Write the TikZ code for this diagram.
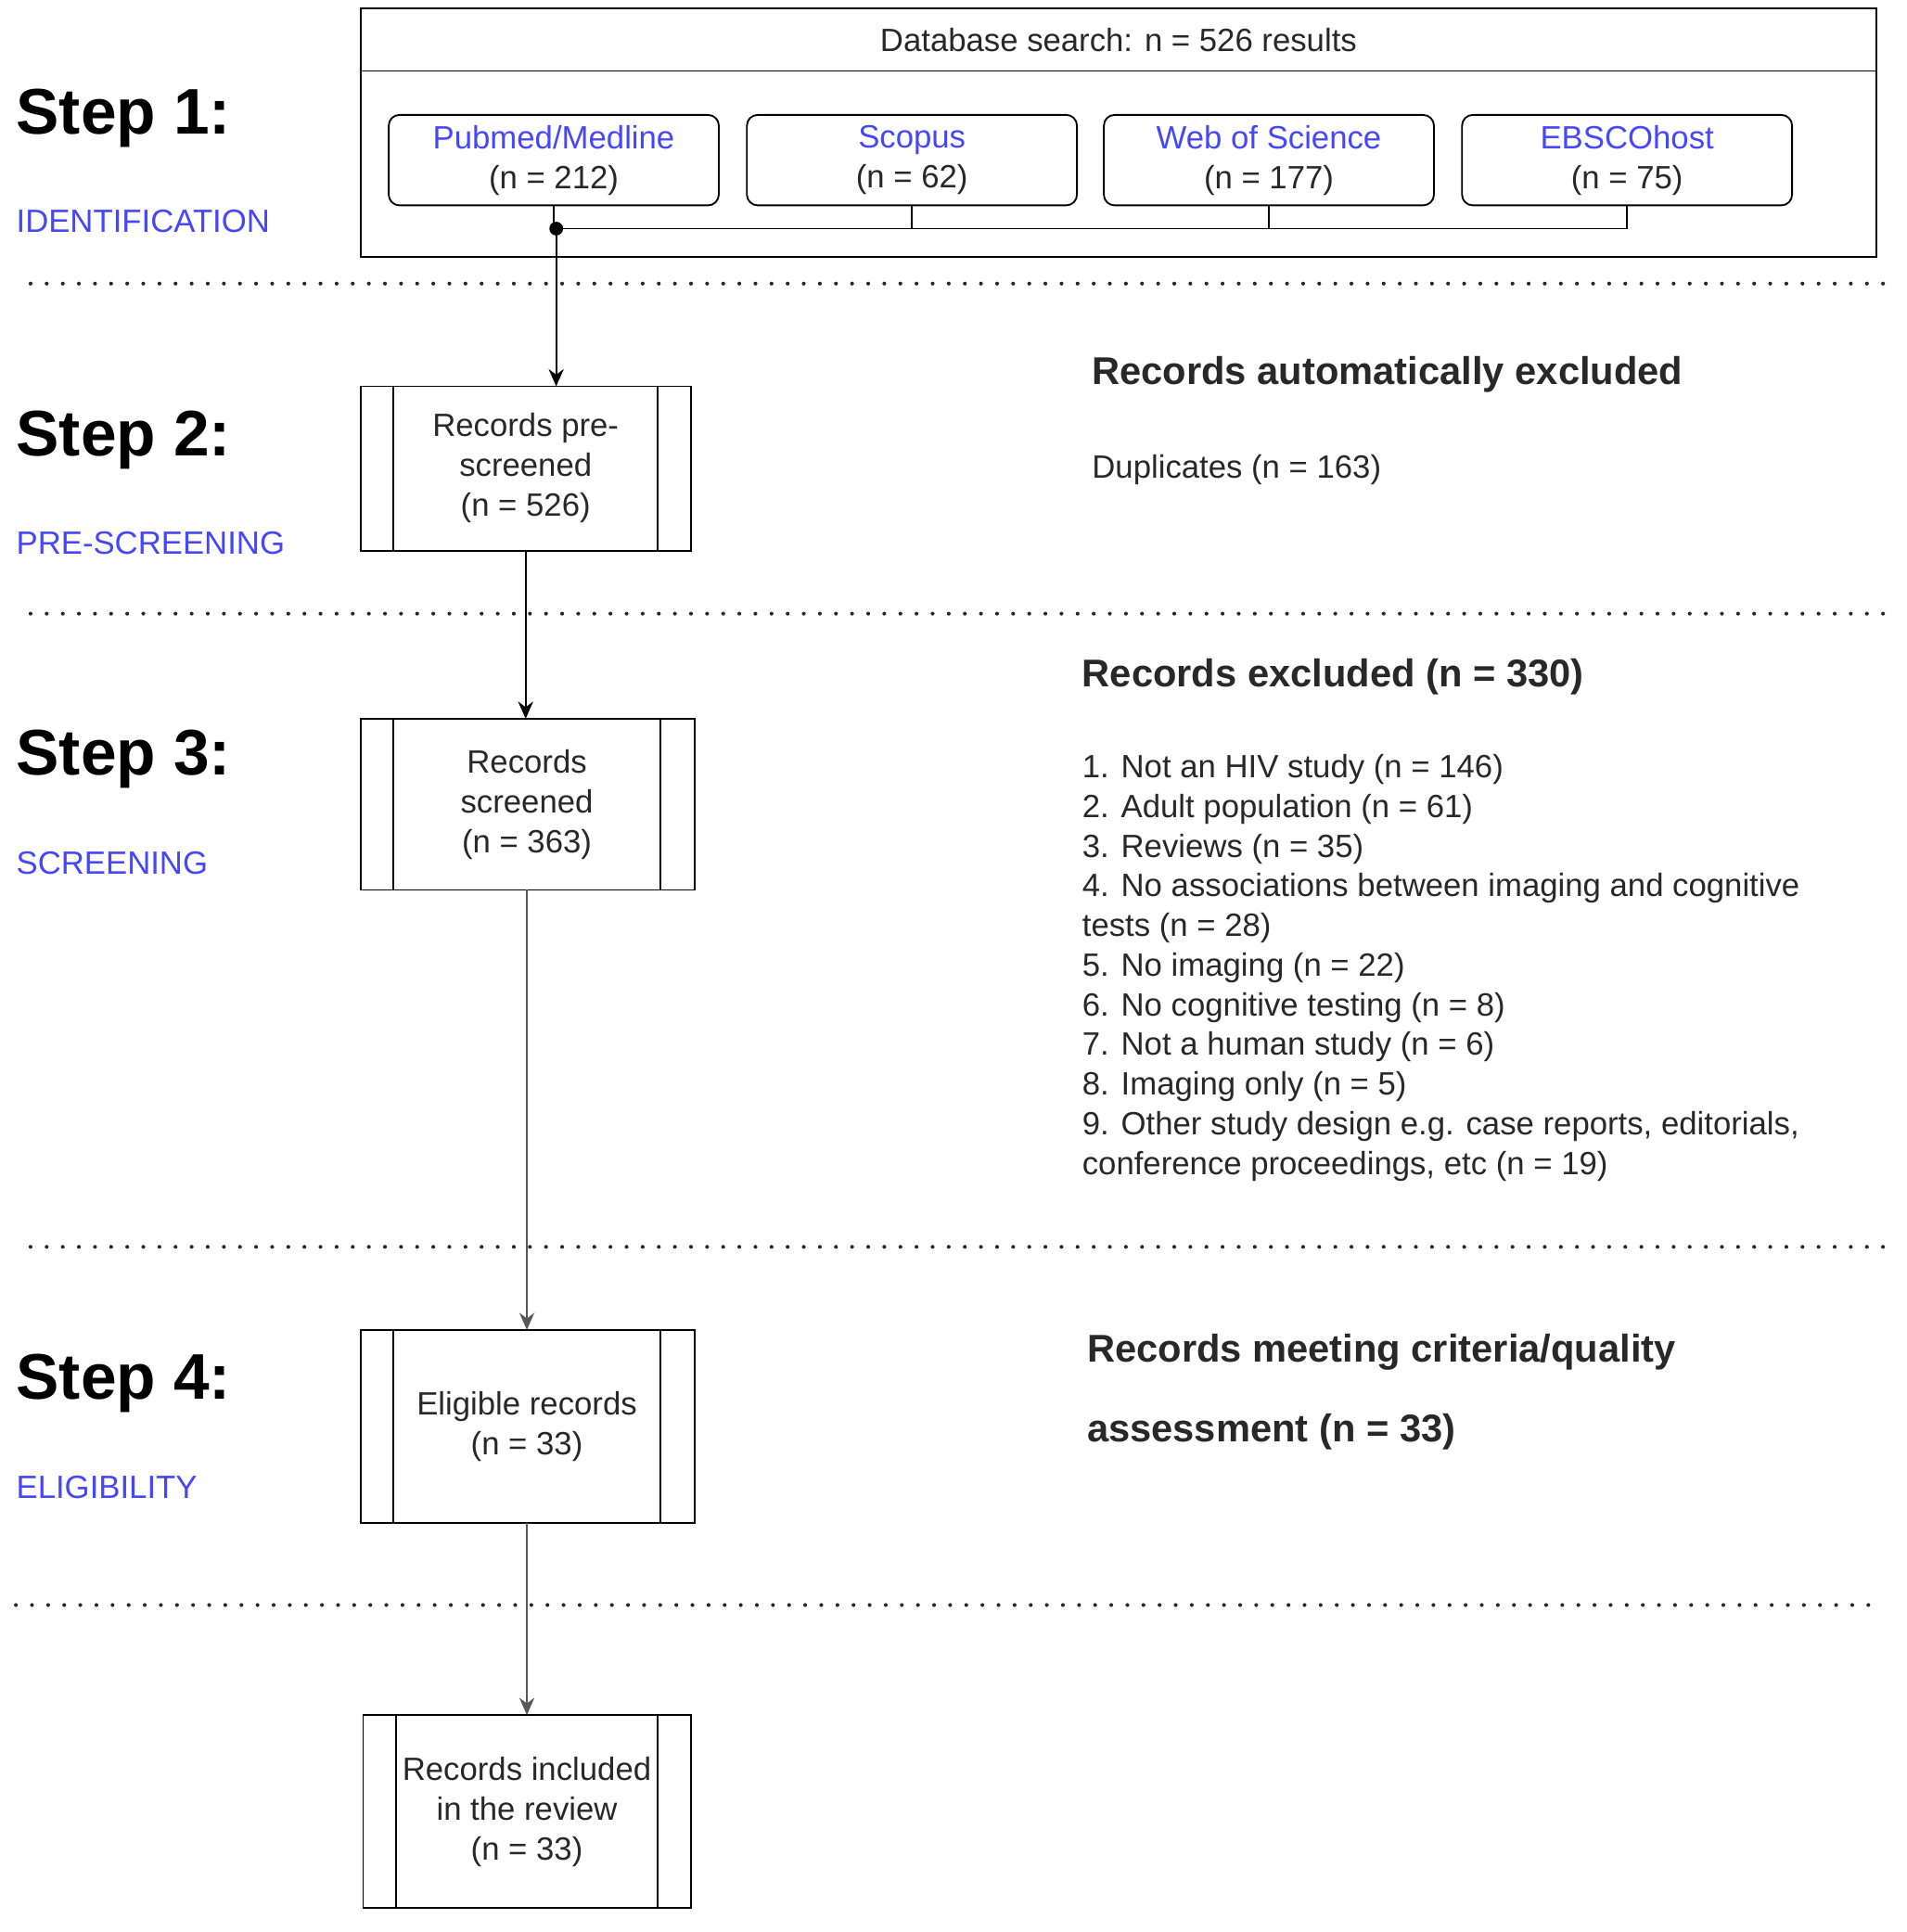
\documentclass[tikz,border=0pt]{standalone}
\usepackage{fontspec}
\usetikzlibrary{arrows.meta}
\setmainfont{Liberation Sans}
\definecolor{bl}{RGB}{70,70,250}
\definecolor{tx}{RGB}{40,40,40}
\begin{document}
\begin{tikzpicture}[x=0.02cm,y=-0.02cm,
 stxt/.style={font=\fontsize{15}{18.5}\selectfont,text=tx,align=center,inner sep=0},
 steplbl/.style={font=\fontsize{30}{32}\selectfont\bfseries,anchor=west,inner sep=0},
 bluelbl/.style={font=\fontsize{15}{17}\selectfont,text=bl,anchor=west,inner sep=0},
 hdr/.style={font=\fontsize{18}{21}\selectfont\bfseries,text=tx,anchor=west,inner sep=0},
 src/.style={draw,rounded corners=5pt,line width=0.8pt,minimum width=270*0.02cm,minimum height=74*0.02cm,align=center,inner sep=0,font=\fontsize{15}{18.5}\selectfont},
 dots/.style={line width=1.8pt,dash pattern=on 0pt off 7.5pt,line cap=round,color=tx},
 arr/.style={-{Stealth[length=8pt,width=7pt]},line width=1pt},
]
\useasboundingbox (0,0) rectangle (1560,1580.5);
% DB box
\draw[line width=0.8pt] (295,7) rectangle (1535,210);
\draw[line width=0.8pt] (295,58) -- (1535,58);
\node[stxt] (db) at (915,33) {Database search: n = 526 results};
\node[src] (pm) at (453,131) {\textcolor{bl}{Pubmed/Medline}\\\textcolor{tx}{(n = 212)}};
\node[src] (sc) at (746,131) {\textcolor{bl}{Scopus}\\\textcolor{tx}{(n = 62)}};
\node[src] (ws) at (1038,131) {\textcolor{bl}{Web of Science}\\\textcolor{tx}{(n = 177)}};
\node[src] (eb) at (1331,131) {\textcolor{bl}{EBSCOhost}\\\textcolor{tx}{(n = 75)}};
\coordinate (j) at (455,187);
\draw[line width=0.8pt] (pm.south) -- (pm.south|-j);
\draw[line width=0.8pt] (sc.south) -- (sc.south|-j) -- (j);
\draw[line width=0.8pt] (ws.south) -- (ws.south|-j);
\draw[line width=0.8pt] (eb.south) -- (eb.south|-j) -- (sc.south|-j);
\fill (j) circle (3.2pt);
% dotted separators
\draw[dots] (25,232) -- (1545,232);
\draw[dots] (25,502) -- (1545,502);
\draw[dots] (25,1020) -- (1545,1020);
\draw[dots] (13,1313) -- (1535,1313);
% process boxes
\draw[line width=0.8pt] (295,316) rectangle (565,451) (322,316)--(322,451) (538,316)--(538,451);
\node[stxt] (b2) at (430,383) {Records pre-\\screened\\(n = 526)};
\coordinate (b2t) at (455,316); \coordinate (b2b) at (430,451);
\draw[line width=0.8pt] (295,588) rectangle (568,728) (322,588)--(322,728) (540,588)--(540,728);
\node[stxt] (b3) at (431,658) {Records\\screened\\(n = 363)};
\coordinate (b3t) at (431,588); \coordinate (b3b) at (431,728);
\draw[line width=0.8pt] (295,1088) rectangle (568,1246) (322,1088)--(322,1246) (540,1088)--(540,1246);
\node[stxt] (b4) at (431,1167) {Eligible records\\(n = 33)};
\coordinate (b4t) at (431,1088); \coordinate (b4b) at (431,1246);
\draw[line width=0.8pt] (297,1403) rectangle (565,1561) (324,1403)--(324,1561) (538,1403)--(538,1561);
\node[stxt] (b5) at (431,1482) {Records included\\in the review\\(n = 33)};
\coordinate (b5t) at (431,1403);
\draw[arr] (j) -- (b2t);
\draw[arr] (b2b) -- (b2b|-b3t);
\draw[arr,draw=gray!70!black,fill=black] (b3b) -- (b4t);
\draw[arr,draw=gray!70!black] (b4b) -- (b5t);
% step labels
\node[steplbl] (s1) at (13,97) {Step 1:};
\node[bluelbl] (l1) at (13,181) {IDENTIFICATION};
\node[steplbl] (s2) at (13,360) {Step 2:};
\node[bluelbl] (l2) at (13,444) {PRE-SCREENING};
\node[steplbl] (s3) at (13,621) {Step 3:};
\node[bluelbl] (l3) at (13,706) {SCREENING};
\node[steplbl] (s4) at (13,1132) {Step 4:};
\node[bluelbl] (l4) at (13,1217) {ELIGIBILITY};
% right texts
\node[hdr] (h1) at (893,306) {Records automatically excluded};
\node[stxt,anchor=west] (d1) at (893,384) {Duplicates (n = 163)};
\node[hdr] (h2) at (885,554) {Records excluded (n = 330)};
\node[stxt,anchor=north west,align=left,font=\fontsize{15}{18.45}\selectfont] (lst) at (885,617) {1. Not an HIV study (n = 146)\\2. Adult population (n = 61)\\3. Reviews (n = 35)\\4. No associations between imaging and cognitive\\tests (n = 28)\\5. No imaging (n = 22)\\6. No cognitive testing (n = 8)\\7. Not a human study (n = 6)\\8. Imaging only (n = 5)\\9. Other study design e.g. case reports, editorials,\\conference proceedings, etc (n = 19)};
\node[hdr] (h3) at (889,1106) {Records meeting criteria/quality};
\node[hdr] (h4) at (889,1171) {assessment (n = 33)};
\end{tikzpicture}
\end{document}
